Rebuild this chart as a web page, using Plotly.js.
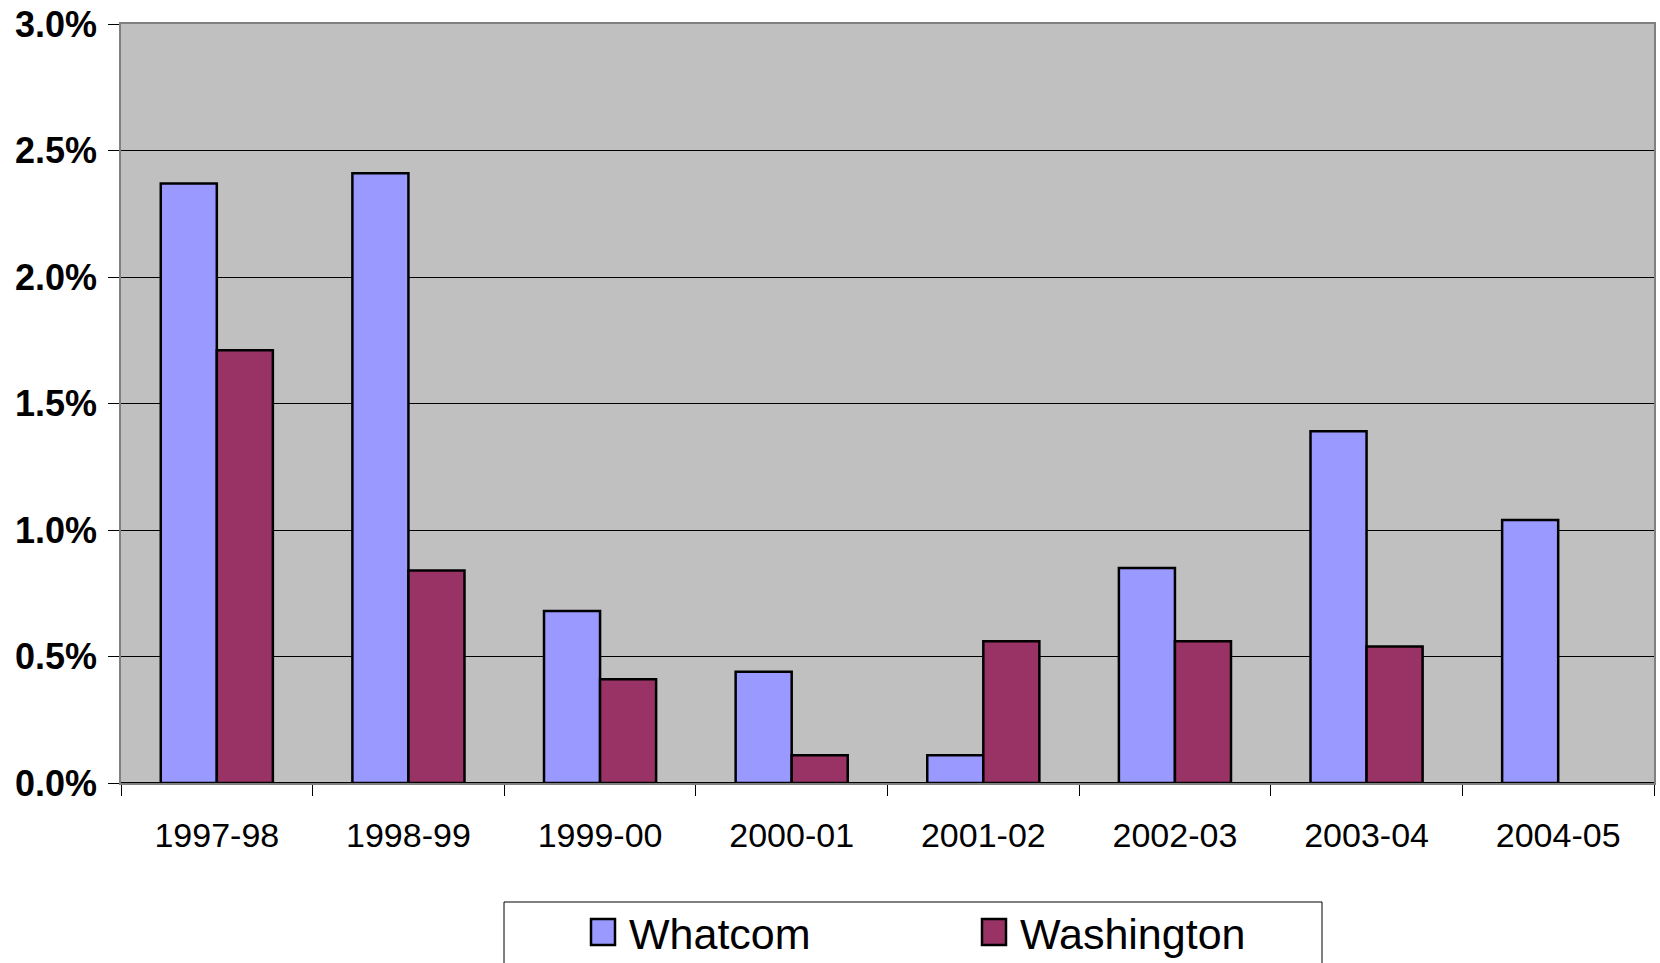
<!DOCTYPE html>
<html>
<head>
<meta charset="utf-8">
<script src="https://cdn.plot.ly/plotly-3.0.1.min.js"></script>
<style>
  html, body { margin: 0; padding: 0; background: #fff; }
  #chart { width: 1660px; height: 963px; }
</style>
</head>
<body>
<div id="chart"></div>
<script>
const categories = ["1997-98", "1998-99", "1999-00", "2000-01", "2001-02", "2002-03", "2003-04", "2004-05"];
const whatcom = [2.37, 2.41, 0.68, 0.44, 0.11, 0.85, 1.39, 1.04];
const washington = [1.71, 0.84, 0.41, 0.11, 0.56, 0.56, 0.54, null];
const yTickVals = [0, 0.5, 1.0, 1.5, 2.0, 2.5, 3.0];
const yTickLabels = ["0.0%", "0.5%", "1.0%", "1.5%", "2.0%", "2.5%", "3.0%"];

const W = 1660, H = 963;
const L = 121, R = 6, T = 24, B = 180;
const pw = W - L - R, ph = H - T - B;
const px = x => (x - L) / pw;
const py = y => (H - B - y) / ph;

const FONT = "Liberation Sans, Arial, Helvetica, sans-serif";

const traces = [
  {
    type: "bar", name: "Whatcom", x: categories, y: whatcom,
    marker: { color: "#9999FF", line: { color: "#000000", width: 2.5 } },
    hoverinfo: "x+y"
  },
  {
    type: "bar", name: "Washington", x: categories, y: washington,
    marker: { color: "#993366", line: { color: "#000000", width: 2.5 } },
    hoverinfo: "x+y"
  }
];

const layout = {
  width: W, height: H,
  margin: { l: L, r: R, t: T, b: B, pad: 0 },
  paper_bgcolor: "#FFFFFF",
  plot_bgcolor: "#C0C0C0",
  barmode: "group",
  bargap: 0.415,
  bargroupgap: 0,
  font: { family: FONT, color: "#000000" },
  xaxis: {
    type: "category",
    tickson: "boundaries",
    ticks: "outside", ticklen: 11, tickwidth: 1, tickcolor: "#000000",
    showgrid: false,
    showline: true, linecolor: "#808080", linewidth: 1.5, mirror: true,
    tickfont: { family: FONT, size: 34, color: "#000000" },
    ticklabelstandoff: 21,
    automargin: false,
    fixedrange: true
  },
  yaxis: {
    range: [0, 3.0],
    tickmode: "array",
    tickvals: yTickVals,
    ticktext: yTickLabels,
    ticks: "outside", ticklen: 11, tickwidth: 1, tickcolor: "#000000",
    showgrid: true, gridcolor: "#000000", gridwidth: 1,
    zeroline: true, zerolinecolor: "#000000", zerolinewidth: 1.5,
    showline: true, linecolor: "#808080", linewidth: 1.5, mirror: true,
    tickfont: { family: FONT, size: 36, color: "#000000", weight: "bold" },
    ticklabelstandoff: 4,
    automargin: false,
    fixedrange: true
  },
  showlegend: true,
  legend: {
    orientation: "h",
    xref: "container", yref: "container",
    x: 589 / W, xanchor: "left",
    y: (H - 932) / H, yanchor: "middle",
    bgcolor: "rgba(0,0,0,0)",
    borderwidth: 0,
    font: { family: FONT, size: 43, color: "#000000" },
    entrywidth: 346,
    entrywidthmode: "pixels",
    itemclick: false, itemdoubleclick: false
  },
  shapes: [
    {
      type: "rect", xref: "paper", yref: "paper",
      x0: px(504), x1: px(1322), y0: py(902), y1: py(990),
      line: { color: "#000000", width: 1 }, fillcolor: "rgba(0,0,0,0)",
      layer: "below"
    }
  ]
};

Plotly.newPlot("chart", traces, layout, { displayModeBar: false }).then(gd => {
  document.querySelectorAll("#chart .legendpoints path").forEach(p => {
    p.setAttribute("d", "M6,13H-18V-13H6Z");
  });
});
</script>
</body>
</html>
